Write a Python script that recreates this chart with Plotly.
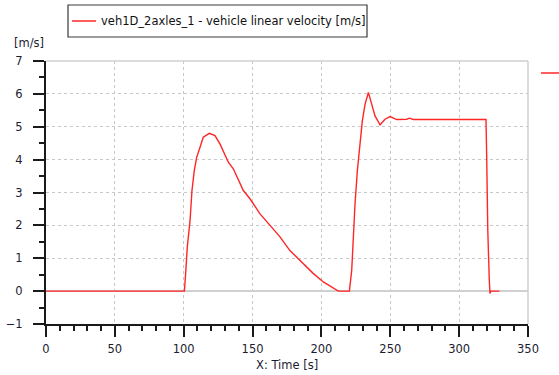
import plotly.graph_objects as go

time_s = [0, 100, 100.5, 101.4, 102.6, 104.6, 106, 107.7, 109.4, 111.8, 114.2, 118.6,
          122.7, 126.4, 132.4, 136, 143.3, 148.1, 155.4, 162.7, 169.9, 177, 184.5, 194,
          201.4, 208.6, 212.3, 220, 220.3, 222, 223.2, 224.4, 226.1, 228, 229.7, 231.7,
          234.1, 236.5, 238.9, 242.6, 246.2, 249.8, 254.7, 261.9, 263.9, 266.8, 319.5,
          320, 320.8, 321.9, 322.4, 323, 329.2]
velocity = [0, 0, 0, 0.54, 1.34, 2.15, 3.06, 3.67, 4.07, 4.37, 4.68, 4.80,
            4.73, 4.47, 3.92, 3.72, 3.06, 2.81, 2.35, 2.0, 1.65, 1.24, 0.94, 0.54,
            0.28, 0.08, 0, 0, 0, 0.64, 1.75, 2.66, 3.67, 4.47, 5.18, 5.69,
            6.04, 5.69, 5.33, 5.06, 5.23, 5.31, 5.22, 5.23, 5.26, 5.22, 5.22,
            4.07, 1.85, 0.33, -0.07, 0, 0]
series_name = "veh1D_2axles_1 - vehicle linear velocity [m/s]"
x_ticks = [0, 50, 100, 150, 200, 250, 300, 350]
y_ticks = [-1, 0, 1, 2, 3, 4, 5, 6, 7]

W, H = 559, 375
L, R, T, B = 46, 31, 61, 51
pw, ph = W - L - R, H - T - B

def px(x):
    return (x - L) / pw

def py(y):
    return (H - B - y) / ph

red = "#ff2626"
font = "DejaVu Sans"
fig = go.Figure()
fig.add_trace(go.Scatter(x=time_s, y=velocity, mode="lines", name=series_name,
                         line=dict(color=red, width=1.4), showlegend=False))

axis_common = dict(showline=True, linecolor="#1a1a1a", linewidth=2, ticks="outside",
                   ticklen=11, tickwidth=1.5, tickcolor="#1a1a1a", automargin=False,
                   showgrid=True, gridcolor="#c8c8c8", griddash="dot", gridwidth=1,
                   tickfont=dict(family=font, size=11.5, color="#1c1c30"))
fig.update_xaxes(range=[0, 350], tickvals=x_ticks, zeroline=False,
                 minor=dict(dtick=10, ticklen=5, tickcolor="#1a1a1a", showgrid=False),
                 ticklabelstandoff=2, **axis_common)
fig.update_yaxes(range=[-1, 7], tickvals=y_ticks, zeroline=True, zerolinecolor="#d0d0d0",
                 zerolinewidth=2,
                 minor=dict(dtick=0.5, ticklen=5, tickcolor="#1a1a1a", showgrid=False),
                 ticklabelstandoff=8, **axis_common)

shapes = [
    dict(type="line", xref="paper", yref="paper", x0=0, x1=1, y0=1, y1=1,
         line=dict(color="#cfcfcf", width=1.5)),
    dict(type="line", xref="paper", yref="paper", x0=1, x1=1, y0=0, y1=1,
         line=dict(color="#cfcfcf", width=1.5)),
    dict(type="rect", xref="paper", yref="paper", x0=px(68), x1=px(367), y0=py(37), y1=py(5),
         line=dict(color="#3a3a3a", width=1.2), fillcolor="white"),
    dict(type="line", xref="paper", yref="paper", x0=px(72), x1=px(96), y0=py(21), y1=py(21),
         line=dict(color=red, width=1.5)),
    dict(type="line", xref="paper", yref="paper", x0=px(541), x1=px(559), y0=py(73), y1=py(73),
         line=dict(color=red, width=1.5)),
]
annotations = [
    dict(text=series_name, xref="paper", yref="paper", x=px(99), y=py(21), xanchor="left",
         yanchor="middle", showarrow=False, font=dict(family=font, size=11.5, color="#111")),
    dict(text="[m/s]", xref="paper", yref="paper", x=px(12), y=py(43), xanchor="left",
         yanchor="middle", showarrow=False, font=dict(family=font, size=11.5, color="#1c1c30")),
    dict(text="X: Time [s]", xref="paper", yref="paper", x=px(287), y=py(365), xanchor="center",
         yanchor="middle", showarrow=False, font=dict(family=font, size=11.5, color="#1c1c30")),
]

fig.update_layout(width=W, height=H, margin=dict(l=L, r=R, t=T, b=B, autoexpand=False),
                  paper_bgcolor="white", plot_bgcolor="white",
                  shapes=shapes, annotations=annotations, showlegend=False)
fig.write_html("out.html")
